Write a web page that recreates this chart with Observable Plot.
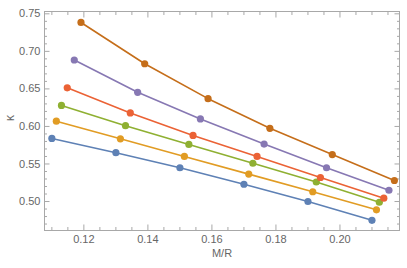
<!DOCTYPE html>
<html>
<head>
<meta charset="utf-8">
<script src="https://cdn.jsdelivr.net/npm/d3@7"></script>
<script src="https://cdn.jsdelivr.net/npm/@observablehq/plot@0.6"></script>
<style>
  html, body { margin: 0; padding: 0; background: #fff; }
  #chart { width: 407px; height: 268px; }
</style>
</head>
<body>
<div id="chart"></div>
<script>
// Series data (M/R, kappa)
const mr1 = [0.110, 0.130, 0.150, 0.170, 0.190, 0.210];
const k1  = [0.584, 0.565, 0.545, 0.523, 0.500, 0.475];
const mr2 = [0.1114, 0.1314, 0.1514, 0.1715, 0.1915, 0.2114];
const k2  = [0.607, 0.5835, 0.560, 0.5365, 0.513, 0.489];
const mr3 = [0.1130, 0.1330, 0.1528, 0.1728, 0.1926, 0.2123];
const k3  = [0.628, 0.601, 0.576, 0.551, 0.526, 0.499];
const mr4 = [0.1148, 0.1345, 0.1541, 0.1741, 0.1939, 0.2137];
const k4  = [0.6515, 0.618, 0.588, 0.560, 0.532, 0.5045];
const mr5 = [0.1170, 0.1368, 0.1564, 0.1763, 0.1958, 0.2153];
const k5  = [0.6885, 0.6455, 0.610, 0.5765, 0.545, 0.515];
const mr6 = [0.1191, 0.1390, 0.1588, 0.1781, 0.1976, 0.2170];
const k6  = [0.7385, 0.6835, 0.637, 0.5975, 0.5625, 0.528];

const seriesNames = ["1", "2", "3", "4", "5", "6"];
const seriesColors = ["#5E81B5", "#E19C24", "#8FB032", "#EB6235", "#8778B3", "#C56E1A"];

const xTicks = [0.12, 0.14, 0.16, 0.18, 0.20];
const yTicks = [0.50, 0.55, 0.60, 0.65, 0.70, 0.75];
const xLabel = "M/R";
const yLabel = "κ";

const allX = [mr1, mr2, mr3, mr4, mr5, mr6];
const allY = [k1, k2, k3, k4, k5, k6];
const rows = [];
seriesNames.forEach((s, i) => {
  allX[i].forEach((x, j) => rows.push({series: s, mr: x, k: allY[i][j]}));
});

const xMinor = d3.range(0.110, 0.2176, 0.005).filter(v => !xTicks.some(t => Math.abs(t - v) < 1e-9));
const yMinor = d3.range(0.47, 0.7526, 0.01).filter(v => !yTicks.some(t => Math.abs(t - v) < 1e-9));

const frameColor = "#a8a8a8";
const labelColor = "#666";
const blank = () => "";

const chart = Plot.plot({
  width: 407,
  height: 268,
  marginLeft: 44,
  marginRight: 8,
  marginTop: 11,
  marginBottom: 38,
  style: {fontFamily: "Liberation Sans, Arial, sans-serif", fontSize: "11px", background: "#fff"},
  x: {domain: [0.1077, 0.2186]},
  y: {domain: [0.4614, 0.7531]},
  color: {domain: seriesNames, range: seriesColors},
  marks: [
    // inward ticks on all four sides
    Plot.axisX(xMinor, {anchor: "bottom", tickSize: -3, tickFormat: blank, stroke: frameColor, label: null}),
    Plot.axisX(xTicks, {anchor: "bottom", tickSize: -5.5, tickFormat: blank, stroke: frameColor, label: null}),
    Plot.axisX(xMinor, {anchor: "top", tickSize: -3, tickFormat: blank, stroke: frameColor, label: null}),
    Plot.axisX(xTicks, {anchor: "top", tickSize: -5.5, tickFormat: blank, stroke: frameColor, label: null}),
    Plot.axisY(yMinor, {anchor: "left", tickSize: -3, tickFormat: blank, stroke: frameColor, label: null}),
    Plot.axisY(yTicks, {anchor: "left", tickSize: -5.5, tickFormat: blank, stroke: frameColor, label: null}),
    Plot.axisY(yMinor, {anchor: "right", tickSize: -3, tickFormat: blank, stroke: frameColor, label: null}),
    Plot.axisY(yTicks, {anchor: "right", tickSize: -5.5, tickFormat: blank, stroke: frameColor, label: null}),
    // tick labels
    Plot.axisX(xTicks, {anchor: "bottom", tickSize: 0, tickPadding: 5, tickFormat: d3.format(".2f"), fill: labelColor, label: null}),
    Plot.axisY(yTicks, {anchor: "left", tickSize: 0, tickPadding: 4, tickFormat: d3.format(".2f"), fill: labelColor, label: null}),
    Plot.frame({stroke: frameColor}),
    // data
    Plot.line(rows, {x: "mr", y: "k", z: "series", stroke: "series", strokeWidth: 1.6}),
    Plot.dot(rows, {x: "mr", y: "k", fill: "series", r: 3.6}),
    // axis titles
    Plot.text([xLabel], {frameAnchor: "bottom", dy: 26, fill: labelColor, fontSize: 11}),
    Plot.text([yLabel], {frameAnchor: "left", dx: -34, rotate: -90, fill: labelColor, fontSize: 12})
  ]
});
document.getElementById("chart").appendChild(chart);
</script>
</body>
</html>
